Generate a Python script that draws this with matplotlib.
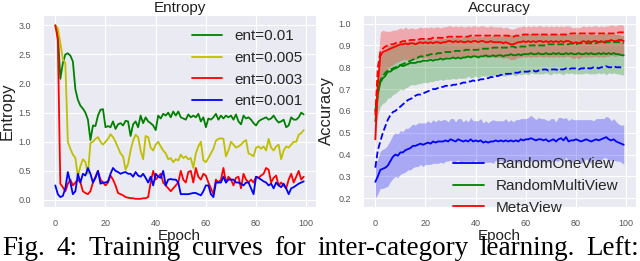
import matplotlib
matplotlib.use("Agg")
import matplotlib.pyplot as plt
import seaborn as sns
import numpy as np

epochs = list(range(100))

# entropy curves (left panel)
ent_01 = [3.0, 2.9, 2.08, 2.35, 2.5, 2.52, 2.48, 2.38, 1.9, 1.72,
          1.62, 1.57, 1.5, 1.38, 1.03, 1.28, 1.27, 1.45, 1.55, 1.56,
          1.25, 1.27, 1.25, 1.35, 1.22, 1.3, 1.32, 1.28, 1.36, 1.35,
          1.1, 1.3, 1.35, 1.25, 1.45, 1.32, 1.42, 1.35, 1.32, 1.28,
          1.2, 1.45, 1.4, 1.48, 1.45, 1.5, 1.42, 1.52, 1.45, 1.52,
          1.42, 1.4, 1.38, 1.47, 1.42, 1.45, 1.42, 1.48, 1.35, 1.42,
          1.25, 1.4, 1.38, 1.42, 1.48, 1.38, 1.45, 1.4, 1.45, 1.42,
          1.45, 1.38, 1.47, 1.35, 1.3, 1.45, 1.4, 1.42, 1.38, 1.32,
          1.28, 1.35, 1.38, 1.4, 1.42, 1.38, 1.4, 1.45, 1.38, 1.33,
          1.35, 1.38, 1.25, 1.28, 1.42, 1.38, 1.38, 1.42, 1.5, 1.47]
ent_005 = [3.0, 2.95, 2.7, 2.42, 2.35, 1.0, 0.88, 0.78, 0.72, 0.4,
           0.58, 0.7, 0.65, 0.45, 0.98, 1.0, 1.05, 1.08, 1.0, 0.95,
           1.0, 1.05, 1.13, 1.08, 1.0, 0.9, 0.8, 0.75, 0.52, 0.62,
           0.85, 1.02, 1.12, 1.08, 0.85, 0.7, 1.1, 1.08, 0.9, 0.85,
           0.95, 1.0, 0.92, 0.85, 0.8, 0.7, 0.72, 0.65, 0.7, 0.68,
           0.78, 0.72, 0.75, 0.7, 0.72, 0.55, 0.8, 0.92, 1.0, 0.68,
           0.65, 0.72, 0.8, 0.88, 1.02, 1.05, 1.06, 1.05, 0.75, 0.85,
           1.0, 0.95, 0.9, 0.92, 0.95, 1.0, 1.03, 0.8, 0.78, 0.75,
           0.9, 0.92, 0.88, 0.92, 0.85, 1.05, 0.9, 0.85, 0.92, 0.95,
           0.7, 0.85, 0.92, 0.9, 0.95, 1.0, 1.0, 1.12, 1.15, 1.2]
ent_003 = [3.0, 2.75, 0.28, 0.22, 0.15, 0.28, 0.35, 0.25, 0.3, 0.35,
           0.3, 0.15, 0.12, 0.1, 0.15, 0.3, 0.4, 0.5, 0.35, 0.3,
           0.25, 0.3, 0.42, 0.35, 0.25, 0.12, 0.1, 0.08, 0.05, 0.04,
           0.03, 0.03, 0.02, 0.02, 0.02, 0.03, 0.03, 0.05, 0.3, 0.5,
           0.35, 0.4, 0.45, 0.3, 0.25, 0.2, 0.15, 0.2, 0.25, 0.3,
           0.5, 0.35, 0.3, 0.48, 0.5, 0.3, 0.55, 0.4, 0.35, 0.45,
           0.42, 0.3, 0.2, 0.1, 0.35, 0.3, 0.35, 0.55, 0.3, 0.4,
           0.35, 0.25, 0.38, 0.4, 0.2, 0.45, 0.35, 0.3, 0.35, 0.3,
           0.4, 0.38, 0.42, 0.45, 0.55, 0.52, 0.3, 0.38, 0.42, 0.25,
           0.3, 0.25, 0.2, 0.35, 0.45, 0.3, 0.4, 0.5, 0.35, 0.4]
ent_001 = [0.25, 0.1, 0.05, 0.07, 0.2, 0.48, 0.3, 0.1, 0.15, 0.45,
           0.3, 0.45, 0.42, 0.55, 0.45, 0.3, 0.38, 0.5, 0.28, 0.3,
           0.3, 0.32, 0.45, 0.55, 0.5, 0.48, 0.45, 0.47, 0.48, 0.45,
           0.45, 0.4, 0.48, 0.42, 0.4, 0.45, 0.38, 0.3, 0.4, 0.25,
           0.45, 0.4, 0.38, 0.5, 0.25, 0.35, 0.36, 0.35, 0.35, 0.3,
           0.1, 0.1, 0.1, 0.1, 0.11, 0.12, 0.12, 0.1, 0.08, 0.15,
           0.25, 0.25, 0.1, 0.05, 0.3, 0.3, 0.3, 0.4, 0.3, 0.35,
           0.35, 0.35, 0.3, 0.3, 0.28, 0.25, 0.3, 0.3, 0.2, 0.1,
           0.4, 0.38, 0.35, 0.32, 0.3, 0.25, 0.28, 0.2, 0.3, 0.25,
           0.22, 0.28, 0.2, 0.1, 0.2, 0.22, 0.25, 0.28, 0.3, 0.32]

# accuracy curves (right panel): mean (solid), spread, best (dashed)
one_mean = [0.275, 0.30, 0.33, 0.335, 0.34, 0.35, 0.37, 0.39, 0.40, 0.395,
            0.41, 0.41, 0.42, 0.425, 0.43, 0.44, 0.44, 0.445, 0.45, 0.445,
            0.45, 0.455, 0.45, 0.46, 0.455, 0.46, 0.46, 0.46, 0.465, 0.46,
            0.47, 0.465, 0.46, 0.47, 0.465, 0.46, 0.465, 0.46, 0.47, 0.46,
            0.465, 0.46, 0.465, 0.455, 0.46, 0.455, 0.46, 0.46, 0.465, 0.46,
            0.465, 0.46, 0.465, 0.46, 0.465, 0.46, 0.465, 0.46, 0.47, 0.465,
            0.47, 0.47, 0.475, 0.47, 0.465, 0.47, 0.47, 0.465, 0.47, 0.46,
            0.465, 0.47, 0.46, 0.47, 0.475, 0.465, 0.48, 0.46, 0.465, 0.465,
            0.47, 0.465, 0.46, 0.465, 0.47, 0.465, 0.46, 0.465, 0.47, 0.465,
            0.47, 0.475, 0.48, 0.47, 0.465, 0.47, 0.46, 0.455, 0.45, 0.445]
one_std = [0.075, 0.08, 0.085, 0.09, 0.09, 0.095, 0.095, 0.10, 0.10, 0.10,
           0.10, 0.095, 0.10, 0.095, 0.10, 0.10, 0.095, 0.10, 0.095, 0.10,
           0.095, 0.10, 0.095, 0.10, 0.095, 0.10, 0.095, 0.10, 0.095, 0.09,
           0.095, 0.10, 0.09, 0.095, 0.10, 0.09, 0.095, 0.09, 0.10, 0.095,
           0.09, 0.095, 0.10, 0.09, 0.095, 0.09, 0.095, 0.10, 0.09, 0.095,
           0.09, 0.095, 0.10, 0.09, 0.095, 0.09, 0.095, 0.10, 0.095, 0.10,
           0.095, 0.10, 0.105, 0.10, 0.095, 0.10, 0.095, 0.10, 0.09, 0.095,
           0.10, 0.095, 0.09, 0.10, 0.095, 0.10, 0.09, 0.095, 0.10, 0.095,
           0.09, 0.095, 0.10, 0.095, 0.09, 0.095, 0.10, 0.09, 0.095, 0.10,
           0.095, 0.09, 0.095, 0.10, 0.09, 0.095, 0.09, 0.085, 0.085, 0.09]
one_best = [0.34, 0.42, 0.46, 0.50, 0.53, 0.56, 0.58, 0.595, 0.60, 0.61,
            0.62, 0.63, 0.64, 0.65, 0.655, 0.66, 0.67, 0.675, 0.675, 0.68,
            0.685, 0.69, 0.695, 0.70, 0.70, 0.705, 0.71, 0.71, 0.715, 0.715,
            0.715, 0.72, 0.72, 0.725, 0.725, 0.73, 0.73, 0.735, 0.735, 0.74,
            0.735, 0.74, 0.745, 0.745, 0.75, 0.75, 0.755, 0.755, 0.76, 0.76,
            0.765, 0.765, 0.77, 0.77, 0.77, 0.775, 0.775, 0.775, 0.78, 0.78,
            0.78, 0.78, 0.785, 0.785, 0.78, 0.785, 0.785, 0.79, 0.79, 0.785,
            0.79, 0.79, 0.79, 0.785, 0.79, 0.79, 0.795, 0.79, 0.795, 0.795,
            0.795, 0.79, 0.795, 0.795, 0.80, 0.795, 0.795, 0.80, 0.80, 0.795,
            0.80, 0.80, 0.805, 0.80, 0.80, 0.805, 0.80, 0.80, 0.80, 0.80]

multi_mean = [0.60, 0.68, 0.73, 0.75, 0.76, 0.78, 0.78, 0.79, 0.795, 0.80,
              0.81, 0.805, 0.81, 0.815, 0.82, 0.82, 0.82, 0.825, 0.825, 0.83,
              0.83, 0.83, 0.835, 0.83, 0.835, 0.835, 0.84, 0.835, 0.84, 0.84,
              0.84, 0.845, 0.84, 0.845, 0.84, 0.845, 0.845, 0.85, 0.845, 0.85,
              0.85, 0.845, 0.85, 0.85, 0.855, 0.85, 0.85, 0.855, 0.85, 0.855,
              0.855, 0.85, 0.855, 0.855, 0.86, 0.855, 0.855, 0.86, 0.855, 0.86,
              0.86, 0.86, 0.865, 0.86, 0.86, 0.865, 0.86, 0.86, 0.865, 0.86,
              0.86, 0.865, 0.86, 0.865, 0.86, 0.86, 0.865, 0.86, 0.865, 0.86,
              0.86, 0.865, 0.86, 0.86, 0.865, 0.86, 0.865, 0.86, 0.86, 0.865,
              0.86, 0.865, 0.86, 0.865, 0.86, 0.865, 0.86, 0.86, 0.855, 0.855]
multi_std = [0.08, 0.10, 0.11, 0.115, 0.12, 0.12, 0.12, 0.115, 0.115, 0.11,
             0.11, 0.11, 0.105, 0.105, 0.10, 0.10, 0.10, 0.10, 0.10, 0.10,
             0.10, 0.10, 0.10, 0.095, 0.095, 0.095, 0.095, 0.095, 0.095, 0.095,
             0.095, 0.095, 0.095, 0.095, 0.09, 0.095, 0.095, 0.09, 0.095, 0.095,
             0.09, 0.095, 0.09, 0.09, 0.095, 0.09, 0.09, 0.095, 0.09, 0.09,
             0.09, 0.09, 0.095, 0.09, 0.09, 0.09, 0.095, 0.09, 0.09, 0.09,
             0.09, 0.095, 0.09, 0.09, 0.09, 0.095, 0.09, 0.09, 0.09, 0.09,
             0.095, 0.09, 0.09, 0.09, 0.09, 0.095, 0.09, 0.09, 0.09, 0.09,
             0.09, 0.095, 0.09, 0.09, 0.09, 0.09, 0.095, 0.09, 0.09, 0.09,
             0.09, 0.09, 0.095, 0.09, 0.09, 0.09, 0.09, 0.09, 0.09, 0.09]
multi_best = [0.55, 0.68, 0.74, 0.76, 0.775, 0.785, 0.79, 0.795, 0.80, 0.805,
              0.81, 0.815, 0.82, 0.825, 0.83, 0.835, 0.84, 0.845, 0.85, 0.85,
              0.855, 0.855, 0.86, 0.86, 0.86, 0.865, 0.865, 0.865, 0.87, 0.87,
              0.87, 0.87, 0.875, 0.875, 0.875, 0.875, 0.88, 0.88, 0.88, 0.88,
              0.88, 0.88, 0.885, 0.885, 0.885, 0.885, 0.885, 0.89, 0.89, 0.89,
              0.89, 0.89, 0.89, 0.89, 0.895, 0.895, 0.89, 0.895, 0.895, 0.895,
              0.895, 0.90, 0.90, 0.90, 0.90, 0.90, 0.90, 0.90, 0.90, 0.905,
              0.905, 0.905, 0.905, 0.905, 0.905, 0.905, 0.905, 0.905, 0.91, 0.905,
              0.905, 0.91, 0.91, 0.91, 0.91, 0.91, 0.91, 0.91, 0.91, 0.915,
              0.915, 0.91, 0.915, 0.915, 0.915, 0.915, 0.915, 0.915, 0.915, 0.91]

meta_mean = [0.47, 0.72, 0.85, 0.87, 0.875, 0.88, 0.885, 0.89, 0.895, 0.90,
             0.905, 0.905, 0.91, 0.905, 0.91, 0.91, 0.905, 0.91, 0.915, 0.91,
             0.915, 0.91, 0.915, 0.91, 0.915, 0.915, 0.91, 0.915, 0.915, 0.92,
             0.92, 0.915, 0.92, 0.915, 0.92, 0.915, 0.915, 0.92, 0.915, 0.92,
             0.92, 0.915, 0.92, 0.92, 0.915, 0.915, 0.92, 0.915, 0.915, 0.915,
             0.915, 0.91, 0.915, 0.91, 0.905, 0.905, 0.91, 0.915, 0.915, 0.92,
             0.915, 0.92, 0.915, 0.92, 0.915, 0.92, 0.92, 0.915, 0.92, 0.915,
             0.92, 0.915, 0.92, 0.915, 0.92, 0.915, 0.92, 0.92, 0.915, 0.91,
             0.915, 0.91, 0.915, 0.92, 0.915, 0.92, 0.915, 0.92, 0.92, 0.915,
             0.92, 0.915, 0.92, 0.92, 0.925, 0.92, 0.92, 0.925, 0.925, 0.92]
meta_std = [0.05, 0.09, 0.11, 0.10, 0.09, 0.085, 0.08, 0.08, 0.075, 0.075,
            0.075, 0.07, 0.075, 0.07, 0.07, 0.07, 0.07, 0.07, 0.07, 0.07,
            0.07, 0.07, 0.07, 0.07, 0.07, 0.07, 0.07, 0.07, 0.07, 0.07,
            0.07, 0.07, 0.07, 0.07, 0.07, 0.07, 0.07, 0.07, 0.07, 0.07,
            0.07, 0.07, 0.07, 0.07, 0.07, 0.07, 0.07, 0.07, 0.07, 0.07,
            0.07, 0.07, 0.07, 0.07, 0.07, 0.07, 0.07, 0.07, 0.07, 0.07,
            0.07, 0.07, 0.07, 0.07, 0.07, 0.07, 0.07, 0.07, 0.07, 0.07,
            0.07, 0.07, 0.07, 0.07, 0.07, 0.07, 0.07, 0.07, 0.07, 0.07,
            0.07, 0.07, 0.07, 0.07, 0.07, 0.07, 0.07, 0.07, 0.07, 0.07,
            0.07, 0.07, 0.07, 0.07, 0.07, 0.07, 0.07, 0.07, 0.07, 0.07]
meta_best = [0.58, 0.80, 0.87, 0.885, 0.895, 0.90, 0.905, 0.905, 0.91, 0.915,
             0.915, 0.92, 0.92, 0.92, 0.925, 0.925, 0.925, 0.925, 0.93, 0.93,
             0.93, 0.93, 0.93, 0.935, 0.935, 0.935, 0.935, 0.935, 0.935, 0.94,
             0.94, 0.94, 0.94, 0.94, 0.94, 0.94, 0.94, 0.94, 0.945, 0.945,
             0.945, 0.945, 0.945, 0.945, 0.945, 0.945, 0.945, 0.945, 0.945, 0.945,
             0.945, 0.945, 0.945, 0.945, 0.94, 0.94, 0.945, 0.945, 0.945, 0.95,
             0.95, 0.95, 0.95, 0.95, 0.95, 0.95, 0.95, 0.95, 0.95, 0.95,
             0.95, 0.95, 0.95, 0.95, 0.95, 0.95, 0.95, 0.95, 0.955, 0.955,
             0.955, 0.955, 0.955, 0.955, 0.955, 0.955, 0.955, 0.955, 0.955, 0.955,
             0.955, 0.955, 0.955, 0.955, 0.955, 0.955, 0.955, 0.96, 0.96, 0.96]

caption_words = ["Fig.", "4:", "Training", "curves", "for",
                 "inter-category", "learning.", "Left:"]


def setup_axes(ax, title, ylabel):
    ax.set_title(title, fontsize=11, pad=2, color="#222222")
    ax.set_ylabel(ylabel, fontsize=12, labelpad=3, color="#222222")
    ax.set_xlabel("Epoch", fontsize=11, labelpad=1, color="#222222")
    ax.tick_params(labelsize=6.5, colors="#555555", pad=5)
    ax.set_xticks([0, 20, 40, 60, 80, 100])


def main():
    sns.set_style("darkgrid")
    plt.rcParams["font.family"] = ["Liberation Sans", "DejaVu Sans"]

    fig = plt.figure(figsize=(6.4, 2.61), dpi=100)
    ax1 = fig.add_axes([0.067, 0.207, 0.427, 0.736])
    ax2 = fig.add_axes([0.567, 0.207, 0.427, 0.736])

    # left: entropy
    ax1.plot(epochs, ent_01, color="g", lw=1.3, label="ent=0.01")
    ax1.plot(epochs, ent_005, color="y", lw=1.3, label="ent=0.005")
    ax1.plot(epochs, ent_003, color="r", lw=1.3, label="ent=0.003")
    ax1.plot(epochs, ent_001, color="b", lw=1.3, label="ent=0.001")
    ax1.set_ylim(-0.12, 3.18)
    ticks = [0.0, 0.5, 1.0, 1.5, 2.0, 2.5, 3.0]
    ax1.set_yticks(ticks)
    ax1.set_yticklabels([f"{v:.1f}" for v in ticks])
    setup_axes(ax1, "Entropy", "Entropy")
    ax1.legend(loc="upper left", bbox_to_anchor=(0.545, 0.925), frameon=False,
               fontsize=11, handlelength=2.0, handletextpad=0.8,
               labelspacing=0.5, borderaxespad=0, borderpad=0)

    # right: accuracy
    series = [
        (one_mean, one_std, one_best, "b", "RandomOneView"),
        (multi_mean, multi_std, multi_best, "g", "RandomMultiView"),
        (meta_mean, meta_std, meta_best, "r", "MetaView"),
    ]
    for mean, std, best, c, name in series:
        m = np.array(mean)
        s = np.array(std)
        ax2.fill_between(epochs, m - s, m + s, color=c, alpha=0.28, lw=0)
    for mean, std, best, c, name in series:
        ax2.plot(epochs, mean, color=c, lw=1.3, label=name)
        ax2.plot(epochs, best, color=c, lw=1.3, ls="--")
    ax2.set_ylim(0.16, 1.04)
    ax2.set_yticks([0.2, 0.3, 0.4, 0.5, 0.6, 0.7, 0.8, 0.9, 1.0])
    setup_axes(ax2, "Accuracy", "Accuracy")
    leg = ax2.legend(loc="upper left", bbox_to_anchor=(0.33, 0.258), frameon=False,
                     fontsize=11, handlelength=2.0, handletextpad=0.8,
                     labelspacing=0.5, borderaxespad=0, borderpad=0)
    leg.set_clip_on(False)

    # justified caption along the bottom
    texts = [fig.text(0, 0.023, w, fontsize=19.5, family="Liberation Serif",
                      va="baseline", ha="left", color="black")
             for w in caption_words]
    fig.canvas.draw()
    r = fig.canvas.get_renderer()
    W = fig.bbox.width
    widths = [t.get_window_extent(r).width for t in texts]
    left, right = 2.0, W - 1.0
    gap = (right - left - sum(widths)) / (len(texts) - 1)
    x = left
    for t, w in zip(texts, widths):
        t.set_x(x / W)
        x += w + gap

    fig.savefig("out.png", dpi=100)


if __name__ == "__main__":
    main()
